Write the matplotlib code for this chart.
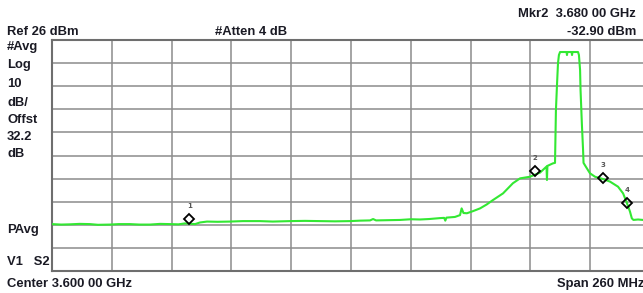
import matplotlib.pyplot as plt

# spectrum analyzer settings
ref_level = 26        # dBm, top of screen
db_per_div = 10
center_mhz = 3600
span_mhz = 260

# trace: frequency in MHz, level in dBm
freq_mhz = [3470.0, 3474.0, 3477.8, 3482.0, 3486.5, 3490.0, 3495.2, 3499.0,
            3503.9, 3508.0, 3512.6, 3517.0, 3521.3, 3525.0, 3527.8, 3532.2,
            3534.3, 3537.4, 3542.0, 3547.4, 3553.0, 3560.4, 3566.0, 3573.5,
            3580.0, 3586.5, 3593.0, 3599.6, 3604.0, 3608.3, 3609.6, 3610.9,
            3616.0, 3621.3, 3626.0, 3630.0, 3634.0, 3638.7, 3640.5, 3641.0,
            3641.5, 3645.2,
            3647.4, 3648.1, 3648.9, 3650.4, 3653.0, 3656.1, 3659.0, 3661.7,
            3666.1, 3670.4, 3673.5, 3677.8, 3682.2, 3685.0, 3685.2, 3685.4,
            3687.8, 3688.7, 3689.1, 3689.6, 3690.0, 3690.4, 3690.9, 3693.7,
            3693.9, 3694.1, 3695.9, 3696.1, 3696.3, 3698.7, 3699.1, 3699.6,
            3699.8, 3700.4, 3700.9, 3701.1, 3702.2, 3703.9, 3706.1, 3709.6,
            3712.6, 3716.1, 3718.3, 3719.9, 3721.3, 3722.1, 3722.8, 3724.8,
            3727.0, 3730.0]
level_dbm = [-53.7, -53.9, -53.8, -53.6, -53.7, -54.0, -53.9, -53.7,
             -53.7, -53.9, -53.9, -53.6, -53.7, -53.8, -53.4, -53.7,
             -53.0, -52.6, -52.7, -52.6, -52.4, -52.4, -52.6, -52.4,
             -52.3, -52.4, -52.5, -52.4, -52.2, -52.1, -51.5, -52.1,
             -52.0, -51.9, -51.6, -51.7, -51.5, -51.1, -51.0, -52.2,
             -50.9, -50.6,
             -49.8, -46.9, -48.9, -49.0, -48.1, -46.9, -45.2, -43.3,
             -40.4, -36.0, -33.9, -33.2, -31.4, -28.8, -34.6, -28.5,
             -27.4, -27.2, -4.3, 7.4, 16.0, 19.5, 20.8, 20.8,
             19.5, 20.8, 20.8, 19.5, 20.8, 20.8, 19.5, 13.0,
             4.4, -10.8, -21.6, -27.2, -29.0, -31.7, -33.2, -34.2,
             -35.3, -37.5, -40.4, -44.4, -48.3, -51.2, -51.9, -51.7,
             -51.9, -51.9]

# markers
mkr_labels = ['1', '2', '3', '4']
mkr_freq = [3529.7, 3680.0, 3709.4, 3719.9]
mkr_level = [-51.5, -30.8, -33.6, -44.4]

left_labels = ['#Avg', 'Log', '10', 'dB/', 'Offst', '32.2', 'dB', 'PAvg', 'V1   S2']
left_label_y = [50, 68, 87, 106, 123, 140, 157, 233, 265]  # baselines, px from top

W, H = 643, 293
fig = plt.figure(figsize=(W / 100, H / 100), dpi=100)
# plot area: 52..650 px wide (right edge cut by the screenshot), 40..271 px tall
ax = fig.add_axes([52 / W, 1 - 271 / H, 598 / W, 231 / H])

f_lo = center_mhz - span_mhz / 2
f_hi = center_mhz + span_mhz / 2
bottom = ref_level - 10 * db_per_div
ax.set_xlim(f_lo, f_hi)
ax.set_ylim(bottom, ref_level)
ax.set_xticks([f_lo + i * span_mhz / 10 for i in range(11)])
ax.set_yticks([bottom + i * db_per_div for i in range(11)])
ax.tick_params(length=0, labelbottom=False, labelleft=False)
ax.grid(True, color='#8c8c8c', linewidth=1.1)
for s in ax.spines.values():
    s.set_color('#6e6e6e')
    s.set_linewidth(1.5)

ax.plot(freq_mhz, level_dbm, color='#33e833', linewidth=1.5, zorder=3)

ax.plot(mkr_freq, mkr_level, linestyle='none', marker='D', markersize=5.5,
        markerfacecolor='none', markeredgecolor='black', markeredgewidth=1.3,
        zorder=4)
for lab, f, lv in zip(mkr_labels, mkr_freq, mkr_level):
    ax.annotate(lab, (f, lv), xytext=(0, 7), textcoords='offset points',
                ha='center', va='bottom', fontsize=5, color='#555555',
                fontweight='bold')

font = dict(family='Liberation Sans', fontweight='bold', fontsize=9.4,
            color='#1a1a24', va='baseline')

def ftext(x, y, s, **kw):
    fig.text(x / W, 1 - y / H, s, **{**font, **kw})

ftext(7, 35, 'Ref 26 dBm')
ftext(215, 35, '#Atten 4 dB')
ftext(636, 17, 'Mkr2  3.680 00 GHz', ha='right')
ftext(636, 35, '-32.90 dBm', ha='right')
for s, y in zip(left_labels, left_label_y):
    ftext(7, y, s)
ftext(7, 287, 'Center 3.600 00 GHz')
ftext(557, 287, 'Span 260 MHz')

fig.savefig('out.png', dpi=100)
